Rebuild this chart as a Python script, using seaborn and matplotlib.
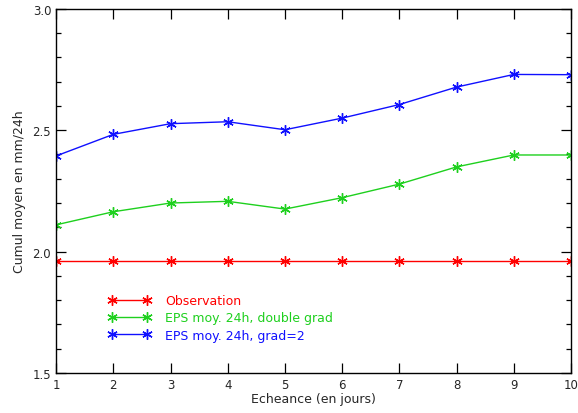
import pandas as pd
import seaborn as sns
import matplotlib.pyplot as plt
from matplotlib.ticker import MultipleLocator

days = [1, 2, 3, 4, 5, 6, 7, 8, 9, 10]
observation = [1.96, 1.96, 1.96, 1.96, 1.96, 1.96, 1.96, 1.96, 1.96, 1.96]
eps_double = [2.110, 2.164, 2.200, 2.207, 2.175, 2.222, 2.278, 2.349, 2.398, 2.398]
eps_grad2 = [2.394, 2.483, 2.527, 2.535, 2.502, 2.550, 2.606, 2.678, 2.730, 2.729]
labels = ["Observation", "EPS moy. 24h, double grad", "EPS moy. 24h, grad=2"]
colors = ["#ff0000", "#1ed01e", "#1010ff"]

df = pd.DataFrame({
    "Echeance": days * 3,
    "Cumul": observation + eps_double + eps_grad2,
    "Serie": [labels[0]] * 10 + [labels[1]] * 10 + [labels[2]] * 10,
})

sns.set_theme(style="ticks")
plt.rcParams["font.family"] = ["DejaVu Sans"]

fig = plt.figure(figsize=(5.78, 4.14), dpi=100)
ax = fig.add_axes([0.097, 0.097, 0.891, 0.879])

sns.lineplot(data=df, x="Echeance", y="Cumul", hue="Serie", hue_order=labels,
             palette=colors, marker=(6, 2, 0), markersize=7.5, markeredgewidth=1.0,
             linewidth=1.0, legend=False, ax=ax)

# asterisk markers drawn in the line colour
for line, lab in zip(ax.lines, labels):
    line.set_markeredgecolor(line.get_color())
    line.set_label(lab)

ax.set_xlim(1, 10)
ax.set_ylim(1.5, 3.0)
ax.xaxis.set_major_locator(MultipleLocator(1))
ax.yaxis.set_major_locator(MultipleLocator(0.5))
ax.yaxis.set_minor_locator(MultipleLocator(0.1))
ax.yaxis.set_major_formatter(plt.FormatStrFormatter("%.1f"))
ax.tick_params(which="both", direction="in", top=True, right=True, labelsize=8.5,
               color="black", width=0.9)
ax.tick_params(which="major", length=7)
ax.tick_params(which="minor", length=3.5)
for s in ax.spines.values():
    s.set_linewidth(1.0)
    s.set_color("black")

ax.set_xlabel("Echeance (en jours)", fontsize=9, labelpad=1)
ax.set_ylabel("Cumul moyen en mm/24h", fontsize=9, labelpad=5)

ax.legend(handles=ax.lines[:3], loc="upper left", bbox_to_anchor=(0.09, 0.234),
          frameon=False, numpoints=2, handlelength=3.4, handletextpad=1.1,
          labelspacing=0.35, fontsize=9, labelcolor="linecolor", borderpad=0)

fig.savefig("out.png", dpi=100)
